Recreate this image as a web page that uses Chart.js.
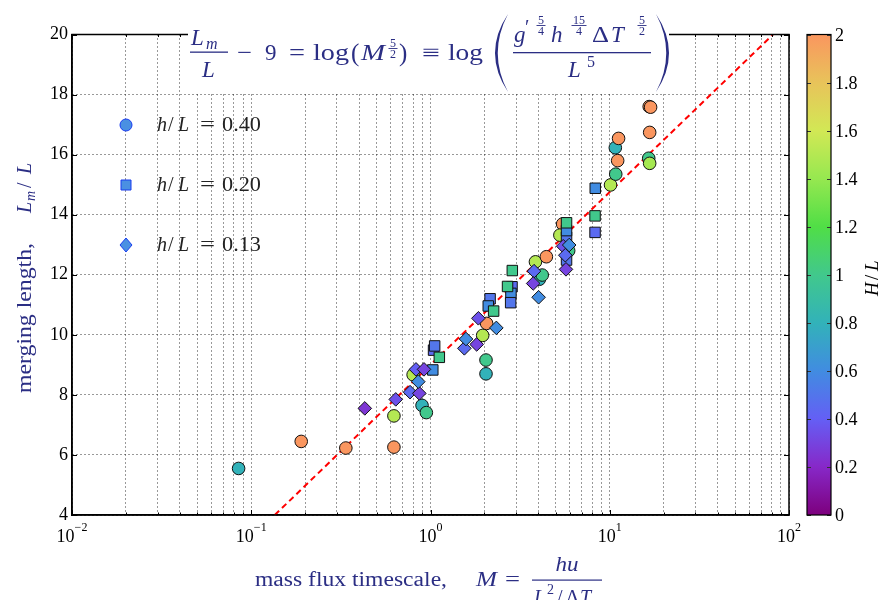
<!DOCTYPE html>
<html>
<head>
<meta charset="utf-8">
<script src="https://cdn.jsdelivr.net/npm/chart.js@4.4.1/dist/chart.umd.min.js"></script>
<style>
  html, body { margin: 0; padding: 0; background: #fff; }
  canvas { display: block; }
</style>
</head>
<body>
<canvas id="myChart" width="893" height="600"></canvas>
<script>
// ---- data ----
// h/L = 0.40 (circles): mass flux timescale M, merging length Lm/L, colour value H/L
const circM  = [0.085, 0.19, 0.337, 0.625, 0.625, 0.80, 0.897, 0.948, 1.955, 2.056, 2.04, 2.04, 3.85, 4.43, 4.05, 4.2, 5.46, 5.27, 5.9, 10.1, 10.8, 11.07, 10.74, 11.2, 16.6, 16.9, 16.7, 16.5, 16.7];
const circLm = [5.55, 6.45, 6.23, 7.30, 6.26, 8.67, 7.65, 7.41, 9.98, 10.38, 9.16, 8.70, 12.43, 12.6, 11.85, 11.99, 13.69, 13.32, 12.8, 14.99, 15.35, 15.80, 16.23, 16.54, 17.6, 17.58, 16.74, 15.88, 15.71];
const circHL = [0.8, 2.0, 2.0, 1.5, 2.0, 1.5, 0.8, 1.0, 1.5, 2.0, 1.0, 0.8, 1.5, 2.0, 0.8, 1.0, 2.0, 1.5, 1.0, 1.5, 1.0, 2.0, 0.8, 2.0, 2.0, 2.0, 2.0, 1.0, 1.45];

// h/L = 0.20 (squares)
const sqM  = [1.04, 1.055, 1.12, 1.03, 2.15, 2.1, 2.25, 2.85, 2.81, 2.8, 2.69, 2.86, 5.74, 5.74, 5.74, 5.74, 8.28, 8.28, 8.3];
const sqLm = [9.49, 9.63, 9.25, 8.83, 11.2, 10.96, 10.79, 11.6, 11.38, 11.07, 11.61, 12.14, 12.49, 13.25, 13.47, 13.73, 13.96, 13.41, 14.88];
const sqHL = [0.45, 0.5, 1.0, 0.6, 0.5, 0.6, 1.0, 0.45, 0.6, 0.5, 1.0, 1.0, 0.5, 0.5, 0.6, 1.0, 1.0, 0.45, 0.6];

// h/L = 0.13 (diamonds)
const dmM  = [0.43, 0.64, 0.769, 0.866, 0.855, 0.83, 0.92, 1.545, 1.578, 1.81, 1.85, 2.33, 3.78, 3.74, 4.01, 5.7, 5.5, 5.65, 5.94];
const dmLm = [7.55, 7.85, 8.09, 8.05, 8.44, 8.85, 8.85, 9.55, 9.86, 9.68, 10.55, 10.23, 12.12, 11.71, 11.25, 12.18, 12.95, 12.65, 12.99];
const dmHL = [0.25, 0.35, 0.45, 0.3, 0.6, 0.4, 0.3, 0.45, 0.6, 0.3, 0.35, 0.6, 0.45, 0.3, 0.6, 0.3, 0.35, 0.45, 0.6];

// Lm/L - 9 = log(M^(5/2)) : end points of the dashed line
const fitM  = [0.1353, 81.45];
const fitLm = [4, 20];

const legendLabels = ['0.40', '0.20', '0.13'];
const xDecades = [-2, -1, 0, 1, 2];
const cbTickStep = 0.2;

// ---- styles ----
const NAVY = '#2b2e84';
const SERIF = '"Liberation Serif", "DejaVu Serif", serif';
const GRID = 'rgba(0,0,0,0.8)';

const cmapStops = [0, 0.2, 0.4, 0.6, 0.8, 1.0, 1.2, 1.4, 1.6, 1.8, 2.0];
const cmapRGB = [
    [125, 0, 125], [135, 40, 200], [100, 95, 245], [65, 140, 225], [50, 178, 185],
    [65, 200, 140], [80, 222, 70], [150, 232, 80], [210, 232, 85], [232, 195, 90], [250, 150, 95]
];

function cmap(v) {
    for (let i = 0; i < cmapStops.length - 1; i++) {
        if (v <= cmapStops[i + 1]) {
            let t = (v - cmapStops[i]) / (cmapStops[i + 1] - cmapStops[i]);
            let a = cmapRGB[i], b = cmapRGB[i + 1];
            return 'rgb(' + [0, 1, 2].map(k => Math.round(a[k] + (b[k] - a[k]) * t)).join(',') + ')';
        }
    }
    return 'rgb(' + cmapRGB[cmapRGB.length - 1].join(',') + ')';
}

function points(xs, ys) {
    return xs.map((x, i) => ({ x: x, y: ys[i] }));
}

// grid positions on the log axis: 1..9 x 10^d
let xGridVals = [];
for (let d = xDecades[0]; d < xDecades[xDecades.length - 1]; d++) {
    for (let m = 1; m <= 9; m++) {
        xGridVals.push(Number((m * Math.pow(10, d)).toPrecision(3)));
    }
}
xGridVals.push(Math.pow(10, xDecades[xDecades.length - 1]));

// draw text, optionally stretched to a target width
function put(ctx, s, x, y, size, italic, w, align) {
    ctx.font = (italic ? 'italic ' : '') + size + 'px ' + SERIF;
    ctx.textAlign = 'left';
    ctx.textBaseline = 'alphabetic';
    let m = ctx.measureText(s).width;
    let sx = w ? w / m : 1;
    let x0 = align === 'center' ? x - m * sx / 2 : x;
    ctx.save();
    ctx.translate(x0, y);
    ctx.scale(sx, 1);
    ctx.fillText(s, 0, 0);
    ctx.restore();
    return m * sx;
}

function smallFrac(ctx, num, den, cx, barY, barW) {
    put(ctx, num, cx, barY - 1.5, 12, false, null, 'center');
    ctx.fillRect(cx - barW / 2, barY, barW, 0.9);
    put(ctx, den, cx, barY + 10, 12, false, null, 'center');
}

function bigParen(ctx, x, dir) {
    // dir = -1 for "(" , +1 for ")"
    ctx.beginPath();
    ctx.moveTo(x, 14);
    ctx.quadraticCurveTo(x + dir * 26, 53, x, 92);
    ctx.quadraticCurveTo(x + dir * 20.5, 53, x, 14);
    ctx.fill();
}

const decorPlugin = {
    id: 'decor',
    afterDraw(chart) {
        const ctx = chart.ctx;
        const a = chart.chartArea;
        const xs = chart.scales.x;
        const ys = chart.scales.y;
        const cb = chart.scales.cb;
        ctx.save();

        // inward tick marks on all four sides
        ctx.strokeStyle = '#000';
        ctx.lineWidth = 1;
        ctx.beginPath();
        xs.ticks.forEach(t => {
            let px = Math.round(xs.getPixelForValue(t.value)) + 0.5;
            let major = xDecades.some(d => Math.abs(Math.pow(10, d) - t.value) < 1e-9);
            let len = major ? 5 : 2.5;
            ctx.moveTo(px, a.bottom); ctx.lineTo(px, a.bottom - len);
            ctx.moveTo(px, a.top); ctx.lineTo(px, a.top + len);
        });
        ys.ticks.forEach(t => {
            let py = Math.round(ys.getPixelForValue(t.value)) + 0.5;
            ctx.moveTo(a.left, py); ctx.lineTo(a.left + 5, py);
            ctx.moveTo(a.right, py); ctx.lineTo(a.right - 5, py);
        });
        ctx.stroke();

        // frame round the plot
        ctx.lineWidth = 1.5;
        ctx.strokeRect(a.left, a.top, a.right - a.left, a.bottom - a.top);

        // x tick labels 10^n
        ctx.fillStyle = '#000';
        xDecades.forEach(d => {
            let px = xs.getPixelForValue(Math.pow(10, d));
            let sup = d < 0 ? '\u2212' + (-d) : String(d);
            ctx.font = '12px ' + SERIF;
            let ws = ctx.measureText(sup).width;
            ctx.font = '18px ' + SERIF;
            let wb = ctx.measureText('10').width;
            let x0 = px - (wb + ws) / 2;
            put(ctx, '10', x0, 541.5, 18);
            put(ctx, sup, x0 + wb, 531, 12);
        });

        // colorbar
        const cbL = 807, cbR = 831;
        let top = cb.getPixelForValue(cb.max), bot = cb.getPixelForValue(cb.min);
        let grad = ctx.createLinearGradient(0, bot, 0, top);
        cmapStops.forEach((s, i) => grad.addColorStop(s / cb.max, 'rgb(' + cmapRGB[i].join(',') + ')'));
        ctx.fillStyle = grad;
        ctx.fillRect(cbL, top, cbR - cbL, bot - top);
        ctx.strokeStyle = '#333';
        ctx.lineWidth = 1;
        ctx.fillStyle = '#000';
        cb.ticks.forEach(t => {
            let yv = cb.getPixelForValue(t.value);
            let py = Math.round(yv) + 0.5;
            ctx.beginPath();
            ctx.moveTo(cbL, py); ctx.lineTo(cbL + 4, py);
            ctx.moveTo(cbR - 4, py); ctx.lineTo(cbR, py);
            ctx.stroke();
            put(ctx, String(Number(t.value.toFixed(1))), 835, yv + 6, 18);
        });
        ctx.strokeStyle = '#000';
        ctx.lineWidth = 1.2;
        ctx.strokeRect(cbL, top, cbR - cbL, bot - top);

        // colorbar title H/L
        ctx.save();
        ctx.translate(878, 275);
        ctx.rotate(-Math.PI / 2);
        put(ctx, 'H', -21, 0, 19, true);
        put(ctx, '/', -5, 0, 19);
        put(ctx, 'L', 4, 0, 19, true);
        ctx.restore();

        // legend
        const legY = [125, 185, 245];
        ctx.fillStyle = '#4a90e2';
        ctx.strokeStyle = '#1a3cf0';
        ctx.lineWidth = 1;
        ctx.beginPath(); ctx.arc(126, legY[0], 6, 0, 2 * Math.PI); ctx.fill(); ctx.stroke();
        ctx.beginPath(); ctx.rect(121, legY[1] - 5, 10, 10); ctx.fill(); ctx.stroke();
        ctx.beginPath();
        ctx.moveTo(126, legY[2] - 7); ctx.lineTo(132, legY[2]); ctx.lineTo(126, legY[2] + 7); ctx.lineTo(120, legY[2]);
        ctx.closePath(); ctx.fill(); ctx.stroke();
        ctx.fillStyle = '#222';
        legendLabels.forEach((lab, i) => {
            let y = legY[i] + 6;
            put(ctx, 'h', 157, y, 20, true);
            put(ctx, '/', 168, y, 20);
            put(ctx, 'L', 178, y, 20, true);
            put(ctx, '=', 200, y, 20, false, 15);
            put(ctx, lab, 222, y, 20, false, 39);
        });

        // title formula on a white box that hides the frame behind it
        ctx.fillStyle = '#fff';
        ctx.fillRect(188, 0, 481, 93);
        ctx.fillStyle = NAVY;
        put(ctx, 'L', 191, 45, 23, true);
        put(ctx, 'm', 206, 49, 16, true);
        ctx.fillRect(190, 51.5, 38, 1.3);
        put(ctx, 'L', 202, 77, 23, true);
        put(ctx, '\u2212', 237, 60, 23, false, 15);
        put(ctx, '9', 265, 60, 23);
        put(ctx, '=', 289, 60, 23, false, 16);
        put(ctx, 'log', 313, 60, 23, false, 36);
        put(ctx, '(', 351, 61, 25);
        put(ctx, 'M', 361, 60, 23, true, 24);
        smallFrac(ctx, '5', '2', 393, 48, 9);
        put(ctx, ')', 399, 61, 25);
        put(ctx, '\u2261', 422, 60, 23, false, 18);
        put(ctx, 'log', 448, 60, 23, false, 35);
        bigParen(ctx, 508, -1);
        put(ctx, 'g', 514, 42, 23, true);
        put(ctx, '\u2032', 525, 34, 20);
        smallFrac(ctx, '5', '4', 541, 25, 9);
        put(ctx, 'h', 551, 42, 23, true);
        smallFrac(ctx, '15', '4', 579, 25, 15);
        put(ctx, '\u0394', 592, 42, 23, false, 17);
        put(ctx, 'T', 611, 42, 23, true);
        smallFrac(ctx, '5', '2', 642, 25, 9);
        ctx.fillRect(513, 52, 138, 1.3);
        put(ctx, 'L', 568, 77, 23, true);
        put(ctx, '5', 587, 67, 16);
        bigParen(ctx, 656, 1);

        // y axis title
        ctx.save();
        ctx.translate(31, 0);
        ctx.rotate(-Math.PI / 2);
        put(ctx, 'merging length,', -393, 0, 20, false, 150);
        put(ctx, 'L', -213, 0, 20, true);
        put(ctx, 'm', -201, 4, 14, true);
        put(ctx, '/', -188, 0, 20);
        put(ctx, 'L', -174, 0, 20, true);
        ctx.restore();

        // x axis title
        put(ctx, 'mass flux timescale,', 255, 586, 20, false, 192);
        put(ctx, 'M', 476, 586, 20, true, 21);
        put(ctx, '=', 505, 586, 20, false, 15);
        put(ctx, 'hu', 567, 571, 20, true, 23, 'center');
        ctx.fillRect(532, 579.5, 70, 1.2);
        put(ctx, 'L', 534, 604, 20, true);
        put(ctx, '2', 547, 594, 14);
        put(ctx, '/', 557, 604, 20);
        put(ctx, '\u0394', 566, 604, 20);
        put(ctx, 'T', 580, 604, 20, true);

        ctx.restore();
    }
};

const ctx = document.getElementById('myChart');
const tickFont = { family: SERIF, size: 18 };

let myChart = new Chart(ctx, {
    type: 'scatter',
    data: {
        datasets: [
            {
                label: 'h/L = 0.13', data: points(dmM, dmLm), order: 1,
                pointStyle: 'rectRot', pointRadius: 6.8,
                backgroundColor: dmHL.map(cmap), borderColor: '#111', borderWidth: 1
            },
            {
                label: 'h/L = 0.20', data: points(sqM, sqLm), order: 2,
                pointStyle: 'rect', pointRadius: 7.4,
                backgroundColor: sqHL.map(cmap), borderColor: '#111', borderWidth: 1
            },
            {
                label: 'h/L = 0.40', data: points(circM, circLm), order: 3,
                pointStyle: 'circle', pointRadius: 6.3,
                backgroundColor: circHL.map(cmap), borderColor: '#111', borderWidth: 1
            },
            {
                type: 'line', label: 'fit', data: points(fitM, fitLm), order: 4,
                borderColor: '#ff0000', borderWidth: 2, borderDash: [6, 4],
                pointRadius: 0, fill: false
            }
        ]
    },
    options: {
        responsive: false,
        animation: false,
        layout: { padding: { top: 34.5, left: 0, right: 0, bottom: 0 } },
        plugins: { legend: { display: false }, tooltip: { enabled: false } },
        scales: {
            x: {
                type: 'logarithmic', min: 0.01, max: 100,
                afterBuildTicks: s => { s.ticks = xGridVals.map(v => ({ value: v })); },
                afterFit: s => { s.height = 85; },
                ticks: { display: false },
                grid: { color: GRID, lineWidth: 1, drawTicks: false },
                border: { color: '#000', width: 1.5, dash: [1, 3] }
            },
            y: {
                min: 4, max: 20,
                afterFit: s => { s.width = 72; },
                ticks: { stepSize: 2, color: '#000', font: tickFont, padding: 4 },
                grid: { color: GRID, lineWidth: 1, drawTicks: false },
                border: { color: '#000', width: 1.5, dash: [1, 3] }
            },
            cb: {
                position: 'right', min: 0, max: 2,
                afterFit: s => { s.width = 104; },
                ticks: { stepSize: cbTickStep, display: false },
                grid: { display: false, drawTicks: false },
                border: { display: false }
            }
        }
    },
    plugins: [decorPlugin]
});
</script>
</body>
</html>
